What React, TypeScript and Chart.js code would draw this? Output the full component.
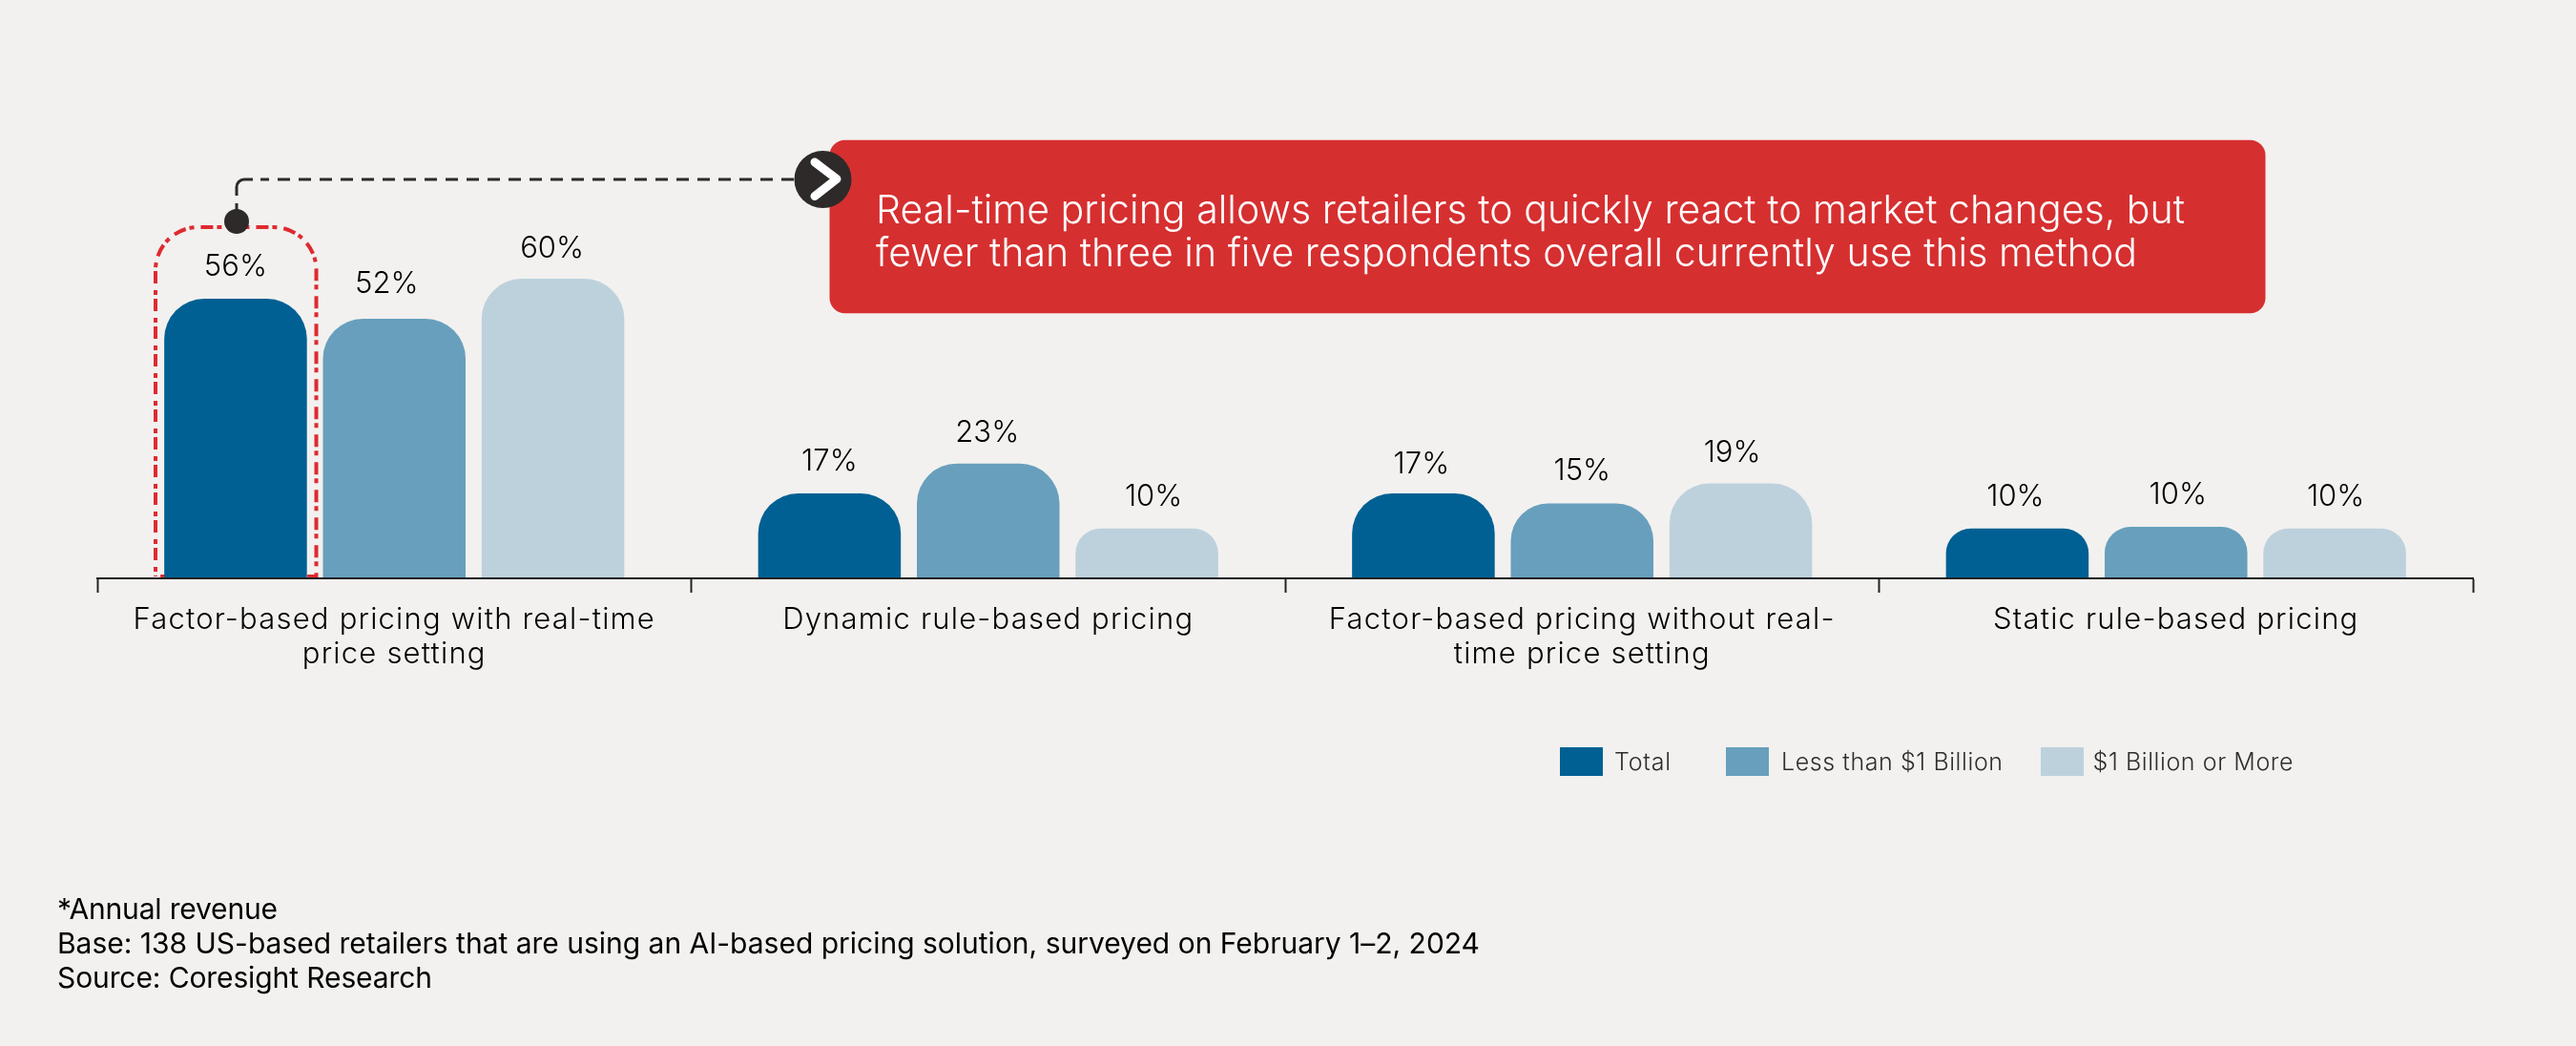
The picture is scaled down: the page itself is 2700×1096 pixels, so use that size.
import React, { useEffect, useRef } from "react";
import { Chart, registerables } from "chart.js";

Chart.register(...registerables);

const categories = [
  ["Factor-based pricing with real-time", "price setting"],
  ["Dynamic rule-based pricing"],
  ["Factor-based pricing without real-", "time price setting"],
  ["Static rule-based pricing"],
];
const seriesNames = ["Total", "Less than $1 Billion", "$1 Billion or More"];
const totalValues = [56, 17, 17, 10];
const underOneBillion = [52, 23, 15, 10.3];
const overOneBillion = [60, 10, 19, 10];
const seriesColors = ["#006093", "#689FBD", "#BDD1DD"];
const calloutLines = [
  "Real-time pricing allows retailers to quickly react to market changes, but",
  "fewer than three in five respondents overall currently use this method",
];
const footnotes = [
  "*Annual revenue",
  "Base: 138 US-based retailers that are using an AI-based pricing solution, surveyed on February 1\u20132, 2024",
  "Source: Coresight Research",
];

// small hand placement of value labels relative to their bars: [dx, dy]
const labelNudges = [
  [[0, 0], [0, 0], [-2, 3], [-2, 0]],
  [[-8, -3], [-1, 1], [0, -1], [2, 0]],
  [[-1, 2], [7, 0], [-9, 1], [1, 0]],
];

const BG = "#F2F1EF";
const RED = "#D62F30";
const DARK = "#2E2A29";
const AXIS = "#222222";

function fitText(ctx: any, text: string, x: number, y: number, width: number) {
  ctx.letterSpacing = "0px";
  const natural = ctx.measureText(text).width;
  ctx.letterSpacing = (width - natural) / Math.max(1, text.length - 1) + "px";
  ctx.fillText(text, x, y);
  ctx.letterSpacing = "0px";
}

const artPlugin = {
  id: "art",
  beforeDraw(chart: any) {
    const ctx = chart.ctx;
    ctx.save();
    ctx.fillStyle = BG;
    ctx.fillRect(0, 0, chart.width, chart.height);
    ctx.restore();
    ctx.font = "300 31px Inter";
    ctx.letterSpacing = "0px";
    const w = ctx.measureText(categories[1][0]).width;
    ctx.letterSpacing = (430 - w) / 25 + "px";
  },
  beforeDatasetsDraw(chart: any) {
    const ctx = chart.ctx;
    ctx.save();
    ctx.letterSpacing = "0px";
    // red dashed highlight round the first bar
    ctx.strokeStyle = "#DE2A30";
    ctx.lineWidth = 4;
    ctx.setLineDash([13, 4, 5, 7]);
    ctx.lineDashOffset = 12;
    ctx.beginPath();
    ctx.moveTo(163, 604);
    ctx.lineTo(163, 283);
    ctx.arcTo(163, 238, 208, 238, 45);
    ctx.lineTo(286, 238);
    ctx.arcTo(331.5, 238, 331.5, 283, 45);
    ctx.lineTo(331.5, 604);
    ctx.lineTo(163, 604);
    ctx.stroke();
    ctx.restore();
  },
  afterDraw(chart: any) {
    const ctx = chart.ctx;
    ctx.save();
    ctx.letterSpacing = "0px";

    // value labels
    ctx.font = "300 31px Inter";
    ctx.fillStyle = "#000000";
    ctx.textAlign = "center";
    ctx.textBaseline = "alphabetic";
    chart.data.datasets.forEach((ds: any, d: number) => {
      chart.getDatasetMeta(d).data.forEach((bar: any, i: number) => {
        const [dx, dy] = labelNudges[d][i];
        ctx.fillText(Math.round(ds.data[i]) + "%", bar.x + dx, bar.y - 35 + 11 + dy);
      });
    });

    // callout box
    ctx.fillStyle = RED;
    ctx.beginPath();
    ctx.roundRect(869.5, 146.7, 1505, 181.6, 16);
    ctx.fill();
    ctx.fillStyle = "#FFFFFF";
    ctx.textAlign = "left";
    ctx.font = "300 41px Inter";
    fitText(ctx, calloutLines[0], 918, 234, 1372);
    fitText(ctx, calloutLines[1], 918, 279, 1322);

    // connector
    ctx.strokeStyle = DARK;
    ctx.lineWidth = 3;
    ctx.beginPath();
    ctx.moveTo(248, 220);
    ctx.lineTo(248, 213);
    ctx.moveTo(248, 205);
    ctx.lineTo(248, 196);
    ctx.arcTo(248, 188, 256, 188, 8);
    ctx.lineTo(265, 188);
    ctx.stroke();
    ctx.setLineDash([13, 9]);
    ctx.lineDashOffset = 4;
    ctx.beginPath();
    ctx.moveTo(273, 188);
    ctx.lineTo(835, 188);
    ctx.stroke();
    ctx.setLineDash([]);
    ctx.fillStyle = DARK;
    ctx.beginPath();
    ctx.arc(248, 232, 13, 0, Math.PI * 2);
    ctx.fill();
    ctx.beginPath();
    ctx.arc(862.5, 188, 30, 0, Math.PI * 2);
    ctx.fill();
    ctx.strokeStyle = "#FFFFFF";
    ctx.lineWidth = 9;
    ctx.lineCap = "round";
    ctx.lineJoin = "round";
    ctx.beginPath();
    ctx.moveTo(854, 170);
    ctx.lineTo(877, 187.5);
    ctx.lineTo(854, 205.5);
    ctx.stroke();

    // legend
    const boxX = [1635, 1809, 2139];
    const textX = [1692, 1867, 2193.5];
    const textW = [59, 232, 210];
    ctx.font = "300 25px Inter";
    seriesNames.forEach((name, i) => {
      ctx.fillStyle = chart.data.datasets[i].backgroundColor;
      ctx.fillRect(boxX[i], 783, 45, 30);
      ctx.fillStyle = "#2E2E2E";
      fitText(ctx, name, textX[i], 806.5, textW[i]);
    });

    // footnotes
    ctx.fillStyle = "#000000";
    ctx.font = "400 30px Inter";
    const footW = [231, 1491, 393];
    footnotes.forEach((line, i) => {
      fitText(ctx, line, 60, 962.5 + i * 36, footW[i]);
    });
    ctx.restore();
  },
};

export default function App() {
  const ref = useRef<HTMLCanvasElement>(null);
  useEffect(() => {
    document.body.style.margin = "0";
    document.body.style.background = BG;
    const chart = new Chart(ref.current as HTMLCanvasElement, {
      type: "bar",
      data: {
        labels: categories as any,
        datasets: [totalValues, underOneBillion, overOneBillion].map((data, i) => ({
          label: seriesNames[i],
          data,
          backgroundColor: seriesColors[i],
          borderRadius: 42,
          categoryPercentage: 0.8016,
          barPercentage: 0.899,
        })),
      },
      options: {
        responsive: false,
        animation: false,
        devicePixelRatio: 1,
        layout: { padding: { left: 102, right: 108, top: 82.8, bottom: 0 } },
        plugins: { legend: { display: false }, tooltip: { enabled: false } },
        scales: {
          y: { display: false, min: 0, max: 100 },
          x: {
            afterFit: (s: any) => {
              s.height = 1096 - 606;
            },
            grid: {
              offset: true,
              drawOnChartArea: false,
              drawTicks: true,
              tickLength: 15,
              tickWidth: 2,
              tickColor: AXIS,
              color: AXIS,
              z: 1,
            },
            border: { display: true, color: AXIS, width: 2, z: 1 },
            ticks: {
              autoSkip: false,
              maxRotation: 0,
              minRotation: 0,
              padding: 11,
              color: "#000000",
              font: { family: "Inter", size: 31, weight: "300", lineHeight: 36 / 31 },
            },
          },
        },
      } as any,
      plugins: [artPlugin],
    });
    return () => chart.destroy();
  }, []);
  return (
    <div style={{ position: "absolute", left: 0, top: 0, width: 2700, height: 1096 }}>
      <canvas ref={ref} width={2700} height={1096} style={{ display: "block" }} />
    </div>
  );
}
